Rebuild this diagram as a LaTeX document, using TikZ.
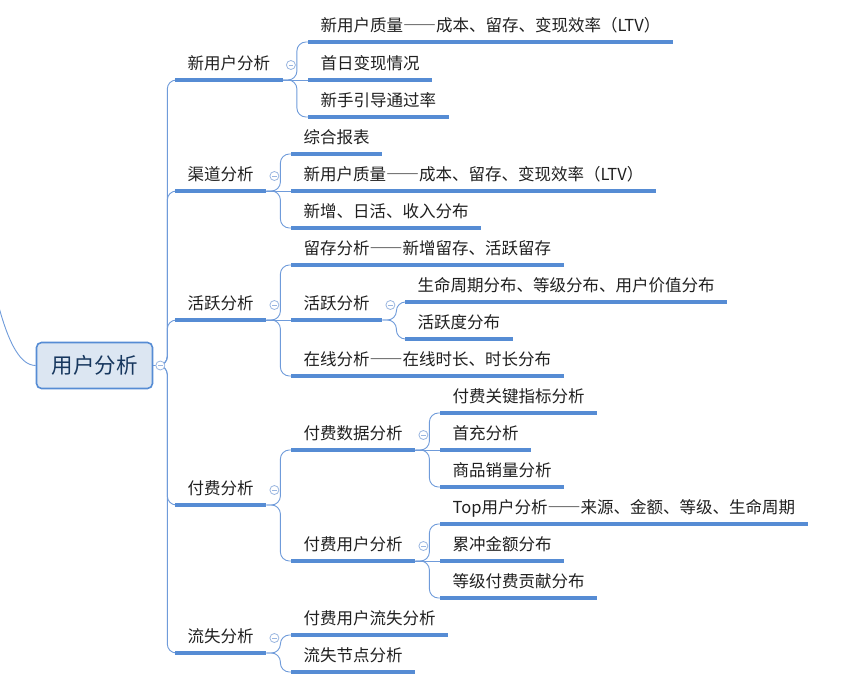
\documentclass[tikz,border=0pt]{standalone}
\usepackage{fontspec}
\newfontfamily\cjk{Noto Sans CJK SC}
\newfontfamily\cjkfull[RawFeature=+fwid]{Noto Sans CJK SC}
\newcommand\dashes{{\cjkfull ——}}
\definecolor{lineblue}{HTML}{568CD4}
\definecolor{thinblue}{HTML}{6F9BDA}
\definecolor{foldblue}{HTML}{9AB6E0}
\definecolor{rootfill}{HTML}{DCE6F2}
\definecolor{rootdark}{HTML}{17375E}
\begin{document}
\begin{tikzpicture}[x=1pt,y=-1pt,
  topic/.style={font=\cjk\fontsize{16.5}{20}\selectfont, text=black!88,
    anchor=south west, inner xsep=12.5pt, inner ysep=0pt,
    text height=13pt, text depth=10pt},
  rootbox/.style={font=\cjk\fontsize{21.5}{24}\selectfont, text=rootdark,
    draw=lineblue, line width=1.6pt, fill=rootfill, rounded corners=5pt,
    minimum width=116pt, minimum height=46pt, inner sep=0pt},
  uline/.style={lineblue, line width=3.2pt},
  conn/.style={thinblue, line width=0.9pt, rounded corners=9pt},
  fold/.style={circle, draw=foldblue, fill=white, line width=0.8pt,
    minimum size=9pt, inner sep=0pt,
    path picture={\draw[foldblue, line width=0.8pt]
      ([xshift=-2.3pt]path picture bounding box.center) --
      ([xshift=2.3pt]path picture bounding box.center);}}]
  \useasboundingbox (0,0) rectangle (849,693);

  % tema central
  \node[rootbox] (root) at (94.5,365.5) {用户分析};
  \coordinate (up) at (-4,296);

  % primer nivel
  \node[topic] (newuser) at (175,80)  {新用户分析};
  \node[topic] (channel) at (175,191) {渠道分析};
  \node[topic] (active)  at (175,320) {活跃分析};
  \node[topic] (pay)     at (175,505) {付费分析};
  \node[topic] (churn)   at (175,653) {流失分析};

  % segundo nivel
  \node[topic] (nuQuality) at (308,42)  {新用户质量\dashes 成本、留存、变现效率（LTV）};
  \node[topic] (nuFirst)   at (308,80)  {首日变现情况};
  \node[topic] (nuGuide)   at (308,117) {新手引导通过率};
  \node[topic] (chReport)  at (291,154) {综合报表};
  \node[topic] (chQuality) at (291,191) {新用户质量\dashes 成本、留存、变现效率（LTV）};
  \node[topic] (chDist)    at (291,228) {新增、日活、收入分布};
  \node[topic] (acRetain)  at (291,265) {留存分析\dashes 新增留存、活跃留存};
  \node[topic] (acSub)     at (291,320) {活跃分析};
  \node[topic] (acOnline)  at (291,376) {在线分析\dashes 在线时长、时长分布};
  \node[topic] (pyData)    at (291,450) {付费数据分析};
  \node[topic] (pyUser)    at (291,561) {付费用户分析};
  \node[topic] (chuPay)    at (291,635) {付费用户流失分析};
  \node[topic] (chuNode)   at (291,672) {流失节点分析};

  % tercer nivel
  \node[topic] (acLife)    at (405,302) {生命周期分布、等级分布、用户价值分布};
  \node[topic] (acDegree)  at (405,339) {活跃度分布};
  \node[topic] (pyKey)     at (440,413) {付费关键指标分析};
  \node[topic] (pyFirst)   at (440,450) {首充分析};
  \node[topic] (pySales)   at (440,487) {商品销量分析};
  \node[topic] (pyTop)     at (440,524) {Top用户分析\dashes 来源、金额、等级、生命周期};
  \node[topic] (pySum)     at (440,561) {累冲金额分布};
  \node[topic] (pyLevel)   at (440,598) {等级付费贡献分布};

  % conectores
  \draw[thinblue, line width=0.9pt] (up) .. controls (6,336) and (18,365.5) .. (root.west);
  \foreach \c in {newuser,channel,active,pay,churn}
    \draw[conn] (root.east) -- ++(14,0) |- (\c.south west);
  \foreach \p/\c in {newuser/nuQuality, newuser/nuGuide,
      channel/chReport, channel/chDist,
      active/acRetain, active/acOnline,
      acSub/acLife, acSub/acDegree,
      pay/pyData, pay/pyUser,
      pyData/pyKey, pyData/pySales,
      pyUser/pyTop, pyUser/pyLevel,
      churn/chuPay, churn/chuNode}
    \draw[conn] (\p.south east) -- ++(14,0) |- (\c.south west);
  \foreach \p/\c in {newuser/nuFirst, channel/chQuality, active/acSub,
      pyData/pyFirst, pyUser/pySum}
    \draw[conn] (\p.south east) -- (\c.south west);

  % subrayados
  \foreach \n in {newuser,channel,active,pay,churn,
      nuQuality,nuFirst,nuGuide,chReport,chQuality,chDist,
      acRetain,acSub,acOnline,acLife,acDegree,
      pyData,pyUser,pyKey,pyFirst,pySales,pyTop,pySum,pyLevel,
      chuPay,chuNode}
    \draw[uline] (\n.south west) -- (\n.south east);

  % botones de plegado
  \node[fold] (f-root) at ([xshift=7pt]root.east) {};
  \foreach \p in {newuser,channel,active,pay,churn,acSub,pyData,pyUser}
    \node[fold] (f-\p) at ([xshift=8pt,yshift=15pt]\p.south east) {};
\end{tikzpicture}
\end{document}
